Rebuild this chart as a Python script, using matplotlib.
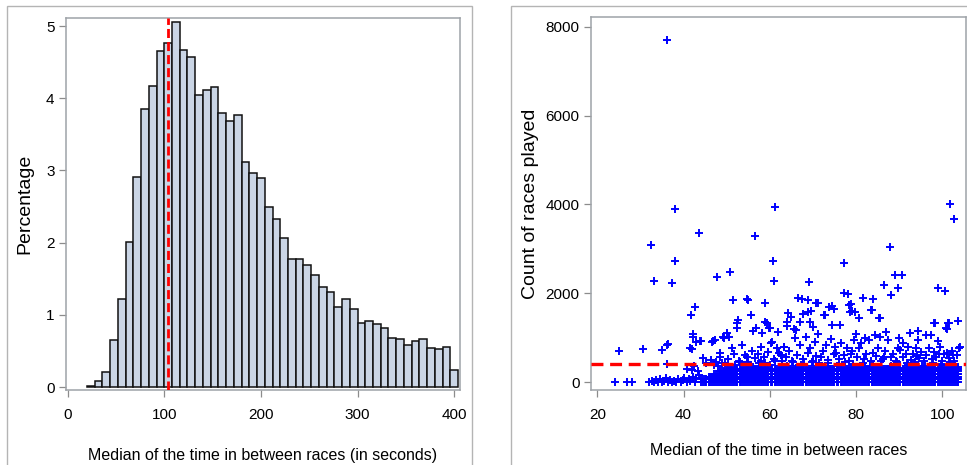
import matplotlib
matplotlib.use("Agg")
import matplotlib.pyplot as plt
from matplotlib.patches import Rectangle

plt.rcParams['font.family'] = ['Liberation Sans', 'DejaVu Sans']
plt.rcParams['lines.scale_dashes'] = False

# ---------------- Left: histogram data ----------------
bin_start = 20
bin_width = 8
hist_percent = [0.02, 0.09, 0.21, 0.65, 1.22, 2.01, 2.91, 3.85, 4.17, 4.65,
                4.77, 5.06, 4.67, 4.57, 4.05, 4.12, 4.16, 3.79, 3.69, 3.77,
                3.12, 2.96, 2.89, 2.50, 2.33, 2.07, 1.78, 1.78, 1.69, 1.55,
                1.39, 1.32, 1.11, 1.22, 1.08, 0.885, 0.91, 0.87, 0.82, 0.68,
                0.67, 0.585, 0.64, 0.66, 0.54, 0.525, 0.56, 0.24]
median_time = 104
left_xticks = [0, 100, 200, 300, 400]
left_yticks = [0, 1, 2, 3, 4, 5]

# ---------------- Right: scatter data ----------------
# isolated points (x = median time, y = count of races)
out_x = [36.1, 38.0, 32.4, 33.2, 38.0, 37.4, 43.5, 47.7, 50.7, 51.4,
         54.8, 55.6, 56.6, 58.9, 61.3, 60.8, 61.0, 69.0, 67.5, 71.2,
         77.3, 78.2, 81.7, 84.0, 83.4, 85.3, 86.5, 87.9, 88.2, 89.1,
         90.6, 89.8, 99.0, 100.7, 101.7, 102.8, 103.6, 101.5, 98.1, 41.7,
         42.6, 42.3, 43.9, 41.6, 36.2, 34.9, 30.7, 25.0, 24.0, 27.0,
         28.0, 59.0, 59.9, 56.9, 67.7, 66.9, 74.8, 74.4, 72.6, 78.8,
         79.1, 79.7, 80.7, 79.9, 94.3, 94.3, 96.2, 97.3, 99.0, 101.1,
         69.5, 69.3, 70.1, 65.7, 63.3, 62.2, 60.3, 52.4, 52.6, 50.0,
         49.1, 46.9, 48.4, 42.8, 44.1, 36.5, 42.0, 52.3, 55.0, 59.3,
         60.0, 63.9, 64.3, 64.9, 66.6, 68.9, 68.9, 70.6, 72.8, 73.7,
         74.5, 76.3, 77.2, 78.4, 78.7, 83.7, 85.6, 98.3, 100.9, 101.3,
         104.1, 60.4, 47.3, 49.4, 50.6, 46.5, 42.2, 92.5, 90.0, 91.0,
         87.0, 84.5, 82.0, 58.3, 56.0, 61.8, 64.0, 66.0]
out_y = [7700, 3895, 3084, 2281, 2724, 2229, 3347, 2371, 2469, 1846,
         1869, 1508, 3295, 1786, 3947, 2717, 2281, 2251, 1869, 1786,
         2672, 1981, 1884, 1869, 1621, 1433, 2184, 3047, 1959, 2409,
         2416, 2109, 2124, 2056, 4000, 3670, 1373, 1336, 1321, 1508,
         1696, 1073, 930, 758, 833, 720, 743, 705, 0, 0,
         0, 1358, 1208, 1208, 1531, 1351, 1651, 1711, 1501, 1756,
         1600, 1568, 1433, 1073, 1148, 946, 1058, 1058, 930, 1186,
         1606, 1358, 1246, 1186, 795, 645, 870, 1208, 1396, 1096,
         1021, 930, 645, 905, 920, 845, 754, 1320, 1848, 1320,
         1207, 1357, 1546, 1471, 1885, 1584, 1848, 1772, 1508, 1697,
         1282, 1282, 2000, 1735, 1584, 1621, 1433, 1320, 1207, 1320,
         792, 905, 943, 980, 1018, 905, 1018, 1094, 1000, 880,
         1130, 1050, 980, 1100, 1150, 1120, 1250, 1180]

# points in the 250-1000 range above the dense band
mid_x = [44.4, 46.3, 45.2, 47.5, 48.5, 49.0, 50.2, 51.3, 51.8, 52.8,
         53.5, 54.2, 55.0, 55.8, 56.5, 57.2, 57.9, 58.0, 58.6, 59.5,
         60.3, 61.0, 61.6, 62.2, 62.8, 63.3, 63.8, 64.5, 65.2, 65.9,
         66.4, 67.0, 67.6, 68.3, 68.8, 69.4, 70.0, 70.5, 71.2, 71.8,
         72.4, 73.0, 73.6, 74.2, 74.8, 75.1, 75.4, 76.0, 76.6, 77.2,
         77.8, 78.4, 79.0, 79.6, 80.2, 80.8, 81.1, 81.8, 82.3, 82.9,
         83.5, 84.0, 84.6, 85.2, 85.6, 86.2, 86.8, 87.4, 88.0, 88.6,
         89.2, 89.8, 90.3, 90.9, 91.5, 92.1, 92.7, 93.3, 93.9, 94.5,
         95.1, 95.7, 96.3, 96.9, 97.5, 98.0, 98.6, 99.2, 99.4, 100.0,
         100.5, 101.0, 101.6, 102.2, 102.8, 103.3, 103.9,
         48.0, 52.0, 56.0, 60.0, 64.0, 68.0, 72.0, 76.0, 80.0, 84.0,
         88.0, 92.0, 96.0, 100.0, 103.0, 50.0, 58.0, 66.0, 74.0, 82.0,
         90.0, 98.0, 40.7, 41.9, 42.5, 43.4, 36.1,
         49.6, 53.1, 57.6, 61.3, 65.4, 69.8, 73.4, 77.5, 81.5, 85.9,
         89.5, 93.6, 97.8, 101.9, 54.6, 62.6, 70.8, 78.9, 86.5, 94.1,
         102.5, 47.0, 51.0, 55.4, 59.0, 63.0, 67.2, 71.5, 75.7, 79.3,
         83.2, 87.8, 91.8, 95.4, 99.7, 103.6]
mid_y = [533, 495, 420, 460, 560, 430, 520, 758, 640, 480,
         833, 600, 450, 700, 540, 620, 470, 795, 560, 680,
         870, 520, 760, 645, 470, 795, 560, 690, 480, 998,
         610, 840, 520, 1021, 650, 760, 480, 900, 1073, 560,
         700, 830, 500, 960, 620, 795, 645, 520, 880, 600,
         758, 480, 690, 950, 560, 760, 870, 520, 640, 946,
         470, 645, 580, 760, 1021, 520, 690, 946, 560, 640,
         480, 760, 720, 560, 640, 795, 500, 620, 760, 540,
         680, 470, 600, 760, 520, 683, 560, 640, 795, 480,
         620, 645, 540, 700, 480, 600, 758,
         350, 380, 340, 390, 360, 400, 350, 380, 340, 390,
         360, 380, 350, 390, 360, 300, 310, 320, 300, 330,
         310, 320, 302, 279, 350, 250, 415,
         420, 450, 430, 470, 440, 460, 420, 450, 430, 470,
         440, 460, 430, 450, 560, 600, 580, 620, 570, 590,
         610, 380, 330, 360, 420, 340, 380, 430, 350, 410,
         370, 330, 420, 360, 400, 340]

# sparse row of short-gap players at the left
row_x = [32.0, 32.6, 33.1, 33.6, 34.1, 34.6, 35.0, 35.5, 36.0, 36.4,
         36.9, 37.4, 37.9, 38.3, 38.8, 39.3, 39.8, 40.2, 40.7, 41.2,
         41.6, 42.1, 42.6, 43.0, 43.5]
row_y = [0, 20, 0, 40, 0, 60, 0, 30, 80, 0,
         50, 0, 30, 0, 70, 0, 40, 100, 0, 60,
         20, 120, 0, 80, 150]

# dense band of players with few races (x positions, y levels)
band_x = [44.0, 44.4, 44.9, 45.3, 45.8, 46.2, 46.7, 47.1, 47.6, 48.0,
          48.5, 48.9, 49.4, 49.8, 50.3, 50.7, 51.2, 51.6, 52.1, 52.5,
          53.0, 53.4, 53.9, 54.3, 54.8, 55.2, 55.7, 56.1, 56.6, 57.0,
          57.5, 57.9, 58.4, 58.8, 59.3, 59.7, 60.2, 60.6, 61.1, 61.5,
          62.0, 62.4, 62.9, 63.3, 63.8, 64.2, 64.7, 65.1, 65.6, 66.0,
          66.5, 66.9, 67.4, 67.8, 68.3, 68.7, 69.2, 69.6, 70.1, 70.5,
          71.0, 71.4, 71.9, 72.3, 72.8, 73.2, 73.7, 74.1, 74.6, 75.0,
          75.5, 75.9, 76.4, 76.8, 77.3, 77.7, 78.2, 78.6, 79.1, 79.5,
          80.0, 80.4, 80.9, 81.3, 81.8, 82.2, 82.7, 83.1, 83.6, 84.0,
          84.5, 84.9, 85.4, 85.8, 86.3, 86.7, 87.2, 87.6, 88.1, 88.5,
          89.0, 89.4, 89.9, 90.3, 90.8, 91.2, 91.7, 92.1, 92.6, 93.0,
          93.5, 93.9, 94.4, 94.8, 95.3, 95.7, 96.2, 96.6, 97.1, 97.5,
          98.0, 98.4, 98.9, 99.3, 99.8, 100.2, 100.7, 101.1, 101.6, 102.0,
          102.5, 102.9, 103.4, 103.7]
band_levels = [0, 60, 120, 180, 240, 300]
band_start = [44.0, 44.0, 45.5, 47.0, 48.5, 52.0]
count_ref = 410
right_xticks = [20, 40, 60, 80, 100]
right_yticks = [0, 2000, 4000, 6000, 8000]

# ---------------- Figure ----------------
W, H = 967, 465
fig = plt.figure(figsize=(W / 100, H / 100), dpi=100)
fig.patch.set_facecolor('white')

def frac(x0, y0, x1, y1):
    return [x0 / W, 1 - y1 / H, (x1 - x0) / W, (y1 - y0) / H]

frame_col = '#b4b4b4'
fig.patches.append(Rectangle((6.7 / W, -0.1), (471.7 - 6.7) / W, 1.1 - 6 / H,
                             transform=fig.transFigure, fill=False,
                             edgecolor=frame_col, lw=1.0))
fig.patches.append(Rectangle((510.7 / W, -0.1), 0.6, 1.1 - 6 / H,
                             transform=fig.transFigure, fill=False,
                             edgecolor=frame_col, lw=1.0))

spine_col = '#9ea3a8'
tick_col = '#8c8c8c'
xlab_size = 11.5
ylab_size = 14
tick_size = 11

def style(ax):
    for s in ax.spines.values():
        s.set_color(spine_col)
        s.set_linewidth(1.1)
    ax.tick_params(direction='out', length=5, width=0.9, color=tick_col,
                   labelsize=tick_size, labelcolor='black')
    ax.tick_params(axis='x', pad=8)
    ax.tick_params(axis='y', pad=3)

# Left histogram
ax1 = fig.add_axes(frac(65.7, 17.7, 460, 390))
lefts = [bin_start + i * bin_width for i in range(len(hist_percent))]
ax1.bar(lefts, hist_percent, width=bin_width, align='edge', color='#cad5e5',
        edgecolor='#111111', linewidth=1.1, zorder=2)
ax1.axvline(median_time, color='#ff0000', lw=2.0, dashes=(6.5, 2.9), zorder=3)
ax1.set_xlim(-2, 406)
ax1.set_ylim(-0.04, 5.115)
ax1.set_xticks(left_xticks)
ax1.set_yticks(left_yticks)
ax1.set_xlabel('Median of the time in between races (in seconds)', fontsize=xlab_size, labelpad=19)
ax1.set_ylabel('Percentage', fontsize=ylab_size, labelpad=9)
style(ax1)

# Right scatter
ax2 = fig.add_axes(frac(590.7, 16.7, 966, 390))
mk = dict(marker='+', linestyle='none', color='#0000ff', markersize=6.3, mew=1.4)
for lvl, st in zip(band_levels, band_start):
    bx = [v for v in band_x if v >= st]
    ax2.plot(bx, [lvl] * len(bx), **mk)
ax2.plot(row_x, row_y, **mk)
ax2.plot(mid_x, mid_y, **mk)
ax2.plot(out_x, out_y, **mk)
ax2.axhline(count_ref, color='#ff0000', lw=2.4, dashes=(8.6, 4.8), zorder=5)
ax2.set_xlim(18.47, 105.5)
ax2.set_ylim(-180, 8225)
ax2.set_xticks(right_xticks)
ax2.set_yticks(right_yticks)
ax2.set_xlabel('Median of the time in between races', fontsize=xlab_size, labelpad=15)
ax2.set_ylabel('Count of races played', fontsize=ylab_size, labelpad=5)
style(ax2)

fig.savefig('out.png', dpi=100)
